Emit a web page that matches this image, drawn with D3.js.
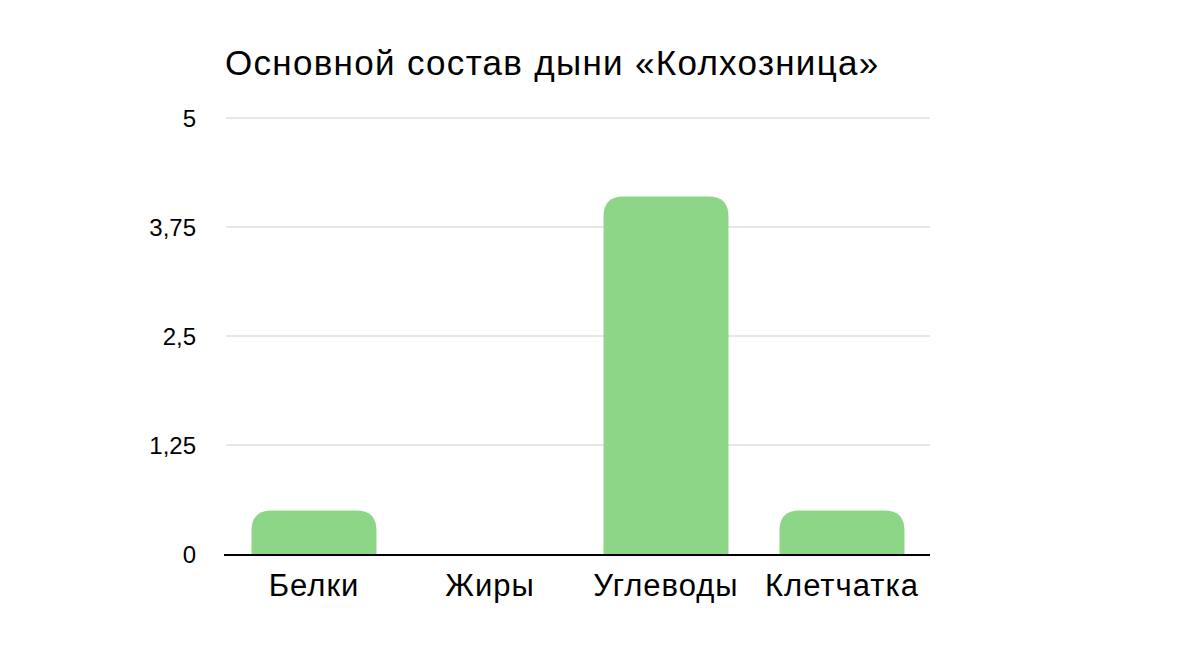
<!DOCTYPE html>
<html lang="ru">
<head>
    <meta charset="UTF-8">
    <title>Основной состав дыни «Колхозница»</title>
    <style>
        body {
            margin: 0;
            background: #fff;
            font-family: "Liberation Sans", Arial, Helvetica, sans-serif;
        }
        .grid line { stroke: #cfcfcf; stroke-width: 1.2px; }
        .bar { fill: #8dd687; }
    </style>
</head>
<body>
    <div id="chart"></div>
    <script src="https://d3js.org/d3.v7.min.js"></script>
    <script>
        // Data
        const categories = ["Белки", "Жиры", "Углеводы", "Клетчатка"];
        const values = [0.5, 0, 4.1, 0.5];
        const yTicks = [0, 1.25, 2.5, 3.75, 5];
        const yTickLabels = ["0", "1,25", "2,5", "3,75", "5"];
        const title = "Основной состав дыни «Колхозница»";

        const width = 1200, height = 663;
        const margin = { top: 118, right: 270, bottom: 109, left: 226 };
        const innerW = width - margin.left - margin.right;
        const innerH = height - margin.top - margin.bottom;

        const svg = d3.select("#chart").append("svg")
            .attr("width", width)
            .attr("height", height);

        svg.append("text")
            .attr("x", 225)
            .attr("y", 75)
            .attr("font-size", 35)
            .attr("letter-spacing", 1.3)
            .attr("fill", "#000")
            .text(title);

        const g = svg.append("g")
            .attr("transform", `translate(${margin.left},${margin.top})`);

        const x = d3.scaleBand()
            .domain(categories)
            .range([0, innerW])
            .paddingInner(0.29)
            .paddingOuter(0.145);

        const y = d3.scaleLinear()
            .domain([0, 5])
            .range([innerH, 0]);

        // grid lines
        g.append("g")
            .attr("class", "grid")
            .selectAll("line")
            .data(yTicks.filter(d => d !== 0))
            .join("line")
            .attr("x1", 0)
            .attr("x2", innerW)
            .attr("y1", d => y(d))
            .attr("y2", d => y(d));

        // y labels
        g.append("g")
            .selectAll("text")
            .data(yTicks)
            .join("text")
            .attr("x", -30)
            .attr("y", d => y(d))
            .attr("dy", "0.36em")
            .attr("text-anchor", "end")
            .attr("font-size", 24)
            .attr("fill", "#000")
            .text((d, i) => yTickLabels[i]);

        // bars with rounded top corners
        const r = 20;
        function barPath(d) {
            const x0 = x(d.cat), w = x.bandwidth();
            const y0 = y(d.val), yb = y(0);
            const h = yb - y0;
            if (h <= 0) return "";
            const rr = Math.min(r, h, w / 2);
            return `M${x0},${yb}V${y0 + rr}Q${x0},${y0} ${x0 + rr},${y0}` +
                `H${x0 + w - rr}Q${x0 + w},${y0} ${x0 + w},${y0 + rr}V${yb}Z`;
        }

        g.selectAll(".bar")
            .data(categories.map((c, i) => ({ cat: c, val: values[i] })))
            .join("path")
            .attr("class", "bar")
            .attr("d", barPath);

        // x axis baseline
        g.append("line")
            .attr("x1", -2)
            .attr("x2", innerW)
            .attr("y1", y(0) + 1)
            .attr("y2", y(0) + 1)
            .attr("stroke", "#000")
            .attr("stroke-width", 2);

        // category labels
        g.append("g")
            .selectAll("text")
            .data(categories)
            .join("text")
            .attr("x", d => x(d) + x.bandwidth() / 2)
            .attr("y", innerH + 42)
            .attr("text-anchor", "middle")
            .attr("font-size", 31)
            .attr("letter-spacing", 1)
            .attr("fill", "#000")
            .text(d => d);
    </script>
</body>
</html>
